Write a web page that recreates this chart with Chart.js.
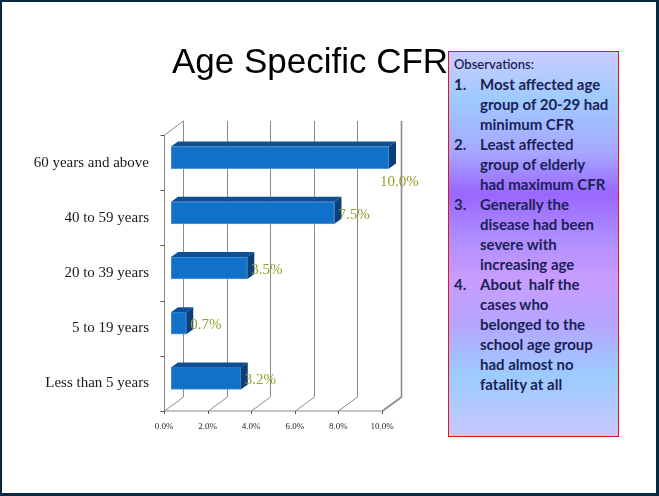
<!DOCTYPE html>
<html>
<head>
<meta charset="utf-8">
<script src="https://cdn.jsdelivr.net/npm/chart.js@4.4.1/dist/chart.umd.min.js"></script>
<style>
  body { margin: 0; background: #fff; }
  #slide { position: relative; width: 659px; height: 496px; overflow: hidden; background: #fff; }
  #cfrChart { position: absolute; left: 0; top: 0; }
  #title {
    position: absolute; left: 110px; width: 400px; top: 39px;
    text-align: center; font-family: "Liberation Sans", Arial, sans-serif;
    font-size: 35px; color: #000; line-height: 44px;
  }
  #notes {
    position: absolute; left: 448px; top: 51px; width: 171px; height: 386px;
    border: 1px solid #e8141c; box-sizing: border-box;
    padding: 2px 0 0 5px;
    background: linear-gradient(to bottom,
      #cbcbff 0%, #9fcbff 12%, #a6a8ff 26%, #9a66ff 37%, #ad8cff 48%,
      #c99cff 59%, #b6a6ff 71%, #9ccbff 84%, #c6c8ff 100%);
    font-family: Lato, "Liberation Sans", sans-serif; color: #1b1f55;
  }
  #notes .head { font-size: 13px; font-weight: 600; line-height: 20px; }
  #notes .item { display: flex; font-size: 15px; font-weight: bold; line-height: 20px; }
  #notes .num { width: 26px; flex: none; }
  #frame {
    position: absolute; left: 0; top: 0; width: 659px; height: 496px; box-sizing: border-box;
    border-style: solid; border-color: #062a44; border-width: 2px 3px 3px 2px; pointer-events: none;
  }
</style>
</head>
<body>
<div id="slide">
  <canvas id="cfrChart" width="659" height="496"></canvas>
  <div id="title">Age Specific CFR</div>
  <div id="notes">
    <div class="head">Observations:</div>
    <div class="item"><span class="num">1.</span><span>Most affected age<br>group of 20-29 had<br>minimum CFR</span></div>
    <div class="item"><span class="num">2.</span><span>Least affected<br>group of elderly<br>had maximum CFR</span></div>
    <div class="item"><span class="num">3.</span><span>Generally the<br>disease had been<br>severe with<br>increasing age</span></div>
    <div class="item"><span class="num">4.</span><span>About&nbsp; half the<br>cases who<br>belonged to the<br>school age group<br>had almost no<br>fatality at all</span></div>
  </div>
  <div id="frame"></div>
</div>
<script>
const ageGroups = ["60 years and above", "40 to 59 years", "20 to 39 years", "5 to 19 years", "Less than 5 years"];
const cfrValues = [10.0, 7.5, 3.5, 0.7, 3.2];
const xTicks = [0, 2, 4, 6, 8, 10];

// depth of the fake 3D box, relative to the plane the bars sit on
const FRONT = { dx: -7, dy: 5 };
const BACK = { dx: 12, dy: -9 };
const BAR_DEPTH = { dx: 7, dy: -5 };

const box3d = {
  id: "box3d",
  beforeDatasetsDraw(chart) {
    const { ctx, chartArea, scales } = chart;
    const xs = scales.x;
    const top = chartArea.top, bottom = chartArea.bottom;
    ctx.save();
    ctx.strokeStyle = "#8a8a8a";
    ctx.lineWidth = 1;
    xTicks.forEach((v, i) => {
      const px = Math.round(xs.getPixelForValue(v)) + 0.5;
      ctx.lineWidth = i === xTicks.length - 1 ? 1.6 : 1;
      ctx.beginPath();
      // back wall line
      ctx.moveTo(px + BACK.dx, top + BACK.dy);
      ctx.lineTo(px + BACK.dx, bottom + BACK.dy);
      // floor line
      ctx.lineTo(px + FRONT.dx, bottom + FRONT.dy);
      ctx.stroke();
    });
    ctx.lineWidth = 1;
    const x0 = Math.round(xs.getPixelForValue(0)) + 0.5;
    ctx.beginPath();
    ctx.moveTo(x0 + BACK.dx, top + BACK.dy);
    ctx.lineTo(x0 + FRONT.dx, top + FRONT.dy);
    ctx.lineTo(x0 + FRONT.dx, bottom + FRONT.dy);
    ctx.lineTo(Math.round(xs.getPixelForValue(10)) + 0.5 + FRONT.dx, bottom + FRONT.dy);
    ctx.stroke();
    // tick marks on the front edges
    ctx.strokeStyle = "#555";
    xTicks.forEach((v) => {
      const px = Math.round(xs.getPixelForValue(v)) + 0.5 + FRONT.dx;
      ctx.beginPath();
      ctx.moveTo(px, bottom + FRONT.dy);
      ctx.lineTo(px, bottom + FRONT.dy + 3);
      ctx.stroke();
    });
    const band = (bottom - top) / ageGroups.length;
    for (let i = 0; i <= ageGroups.length; i++) {
      const py = Math.round(top + i * band) + 0.5 + FRONT.dy;
      ctx.beginPath();
      ctx.moveTo(x0 + FRONT.dx - 4, py);
      ctx.lineTo(x0 + FRONT.dx, py);
      ctx.stroke();
    }
    ctx.restore();
  },
  afterDatasetsDraw(chart) {
    const { ctx } = chart;
    const meta = chart.getDatasetMeta(0);
    const maxVal = Math.max(...cfrValues);
    ctx.save();
    meta.data.forEach((bar, i) => {
      const h = bar.height;
      const yt = bar.y - h / 2, yb = bar.y + h / 2;
      const xa = bar.base, xb = bar.x;
      // top face
      ctx.fillStyle = "#0c4f92";
      ctx.beginPath();
      ctx.moveTo(xa, yt);
      ctx.lineTo(xb, yt);
      ctx.lineTo(xb + BAR_DEPTH.dx, yt + BAR_DEPTH.dy);
      ctx.lineTo(xa + BAR_DEPTH.dx, yt + BAR_DEPTH.dy);
      ctx.closePath();
      ctx.fill();
      // side face
      ctx.fillStyle = "#0a3f7a";
      ctx.beginPath();
      ctx.moveTo(xb, yt);
      ctx.lineTo(xb + BAR_DEPTH.dx, yt + BAR_DEPTH.dy);
      ctx.lineTo(xb + BAR_DEPTH.dx, yb + BAR_DEPTH.dy);
      ctx.lineTo(xb, yb);
      ctx.closePath();
      ctx.fill();
      // value label
      const txt = cfrValues[i].toFixed(1) + "%";
      ctx.font = "15px 'Liberation Serif', serif";
      ctx.fillStyle = "#96a02c";
      ctx.textBaseline = "middle";
      ctx.textAlign = "left";
      if (cfrValues[i] === maxVal) {
        ctx.fillText(txt, xb - 9, bar.y + 24);
      } else {
        ctx.fillText(txt, xb + 4, bar.y + 2);
      }
    });
    ctx.restore();
  }
};

new Chart(document.getElementById("cfrChart"), {
  type: "bar",
  data: {
    labels: ageGroups,
    datasets: [
      {
        data: cfrValues,
        backgroundColor: "#1170c8",
        borderColor: "#4f98de",
        borderWidth: 1,
        borderSkipped: false,
        barThickness: 22,
      },
    ],
  },
  options: {
    indexAxis: "y",
    responsive: false,
    animation: false,
    layout: { padding: { left: 0, top: 130, right: 270, bottom: 60 } },
    plugins: {
      legend: { display: false },
      tooltip: { enabled: false },
    },
    scales: {
      x: {
        min: 0,
        max: 10,
        grid: { display: false },
        border: { display: false },
        afterFit(scale) { scale.height = 30; },
        afterBuildTicks(scale) { scale.ticks = xTicks.map((v) => ({ value: v })); },
        ticks: {
          padding: 7,
          labelOffset: -7,
          color: "#222",
          font: { family: "'Liberation Serif', serif", size: 9 },
          callback: (v) => Number(v).toFixed(1) + "%",
        },
      },
      y: {
        grid: { display: false },
        border: { display: false },
        afterFit(scale) { scale.width = 171; },
        ticks: {
          padding: 14,
          labelOffset: 5,
          color: "#1a1a1a",
          font: { family: "'Liberation Serif', serif", size: 15 },
        },
      },
    },
  },
  plugins: [box3d],
});
</script>
</body>
</html>
